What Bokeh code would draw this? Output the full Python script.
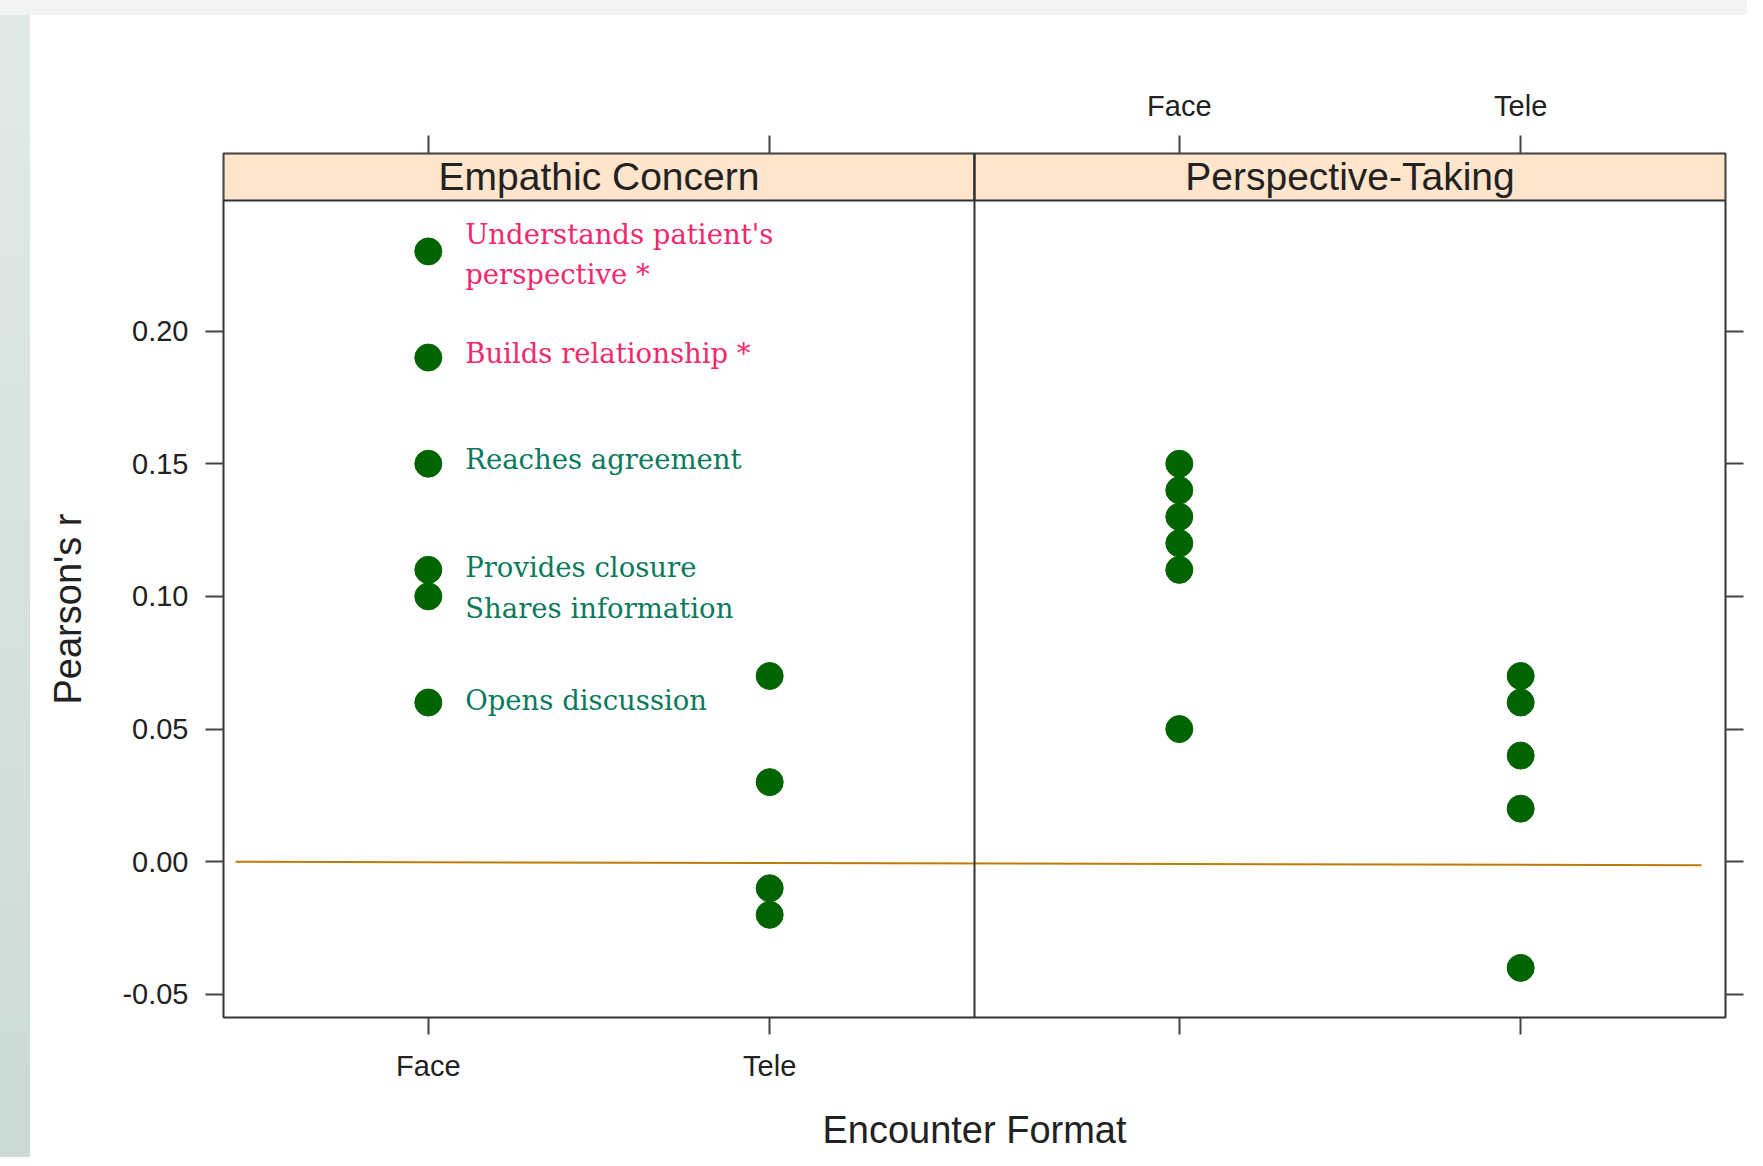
from bokeh.plotting import figure
from bokeh.models import (ColumnDataSource, FixedTicker, LinearAxis, Range1d, Span,
                          Title, NumeralTickFormatter, CustomJSTickFormatter)
from bokeh.layouts import column
from bokeh.core.properties import value
from bokeh.embed import file_html
from bokeh.resources import INLINE

# ---------------- data ----------------
panels = ["Empathic Concern", "Perspective-Taking"]
formats = ["Face", "Tele"]

ec_face = [0.23, 0.19, 0.15, 0.11, 0.10, 0.06]
ec_tele = [0.07, 0.03, -0.01, -0.02]
pt_face = [0.15, 0.14, 0.13, 0.12, 0.11, 0.05]
pt_tele = [0.07, 0.06, 0.04, 0.02, -0.04]

y_ticks = [-0.05, 0.00, 0.05, 0.10, 0.15, 0.20]

ann_text = ["Understands patient's", "perspective *", "Builds  relationship *",
            "Reaches agreement", "Provides closure", "Shares information",
            "Opens discussion"]
ann_y = [0.2367, 0.2215, 0.1918, 0.1516, 0.1109, 0.0957, 0.0610]
ann_kind = ["sig", "sig", "sig", "ns", "ns", "ns", "ns"]

ref_x = [0.435, 4.73]
ref_y = [0.0, -0.0013]

# ---------------- layout constants ----------------
X_LO, X_HI = 0.4, 2.6          # lattice-style factor limits per panel
PW = X_HI - X_LO               # panel width in x units
Y_LO, Y_HI = -0.0587, 0.2669
STRIP_LO = 0.2492

SANS = "Liberation Sans"
SERIF = "DejaVu Serif"
INK = "#222222"
BORDER = "#333333"
PT_COLOR = "#006400"
SIG_COLOR = "#f2286e"
NS_COLOR = "#0a7a5d"

series = {
    ("Empathic Concern", "Face"): ec_face,
    ("Empathic Concern", "Tele"): ec_tele,
    ("Perspective-Taking", "Face"): pt_face,
    ("Perspective-Taking", "Tele"): pt_tele,
}

xs, ys = [], []
for (pan, fmt), vals in series.items():
    xpos = panels.index(pan) * PW + formats.index(fmt) + 1
    for v in vals:
        xs.append(xpos)
        ys.append(v)

p = figure(width=1747, height=1157, output_backend="svg", toolbar_location=None,
           x_range=Range1d(X_LO, X_LO + PW * len(panels)),
           y_range=Range1d(Y_LO, Y_HI),
           min_border_left=223, min_border_right=22,
           min_border_top=153, min_border_bottom=140)
p.background_fill_color = "white"
p.border_fill_alpha = 0
p.outline_line_color = BORDER
p.outline_line_width = 2
p.xgrid.visible = False
p.ygrid.visible = False

x_ticks = [i * PW + j + 1 for i in range(len(panels)) for j in range(len(formats))]

def style_axis(ax, tick_out, standoff):
    ax.axis_line_color = None
    ax.major_tick_line_color = "#444444"
    ax.major_tick_line_width = 2
    ax.major_tick_out = tick_out
    ax.major_tick_in = 0
    ax.minor_tick_line_color = None
    ax.major_label_text_font = SANS
    ax.major_label_text_font_size = "29px"
    ax.major_label_text_color = INK
    ax.major_label_standoff = standoff

# bottom axis: labels on first panel only
bx = p.xaxis[0]
bx.ticker = FixedTicker(ticks=x_ticks)
bx.major_label_overrides = {t: (formats[k % 2] if k < 2 else "") for k, t in enumerate(x_ticks)}
style_axis(bx, 17, 15)
bx.axis_label = "Encounter Format"
bx.axis_label_text_font = SANS
bx.axis_label_text_font_size = "38px"
bx.axis_label_text_font_style = "normal"
bx.axis_label_text_color = INK
bx.axis_label_standoff = 24

# top axis: labels on second panel only
tx = LinearAxis(ticker=FixedTicker(ticks=x_ticks))
tx.major_label_overrides = {t: (formats[k % 2] if k >= 2 else "") for k, t in enumerate(x_ticks)}
style_axis(tx, 18, 14)
p.add_layout(tx, "above")

# left axis
ly = p.yaxis[0]
ly.ticker = FixedTicker(ticks=y_ticks)
ly.formatter = NumeralTickFormatter(format="0.00")
style_axis(ly, 18, 17)

# right axis: ticks only
ry = LinearAxis(ticker=FixedTicker(ticks=y_ticks),
                formatter=CustomJSTickFormatter(code="return ''"))
style_axis(ry, 18, 0)
p.add_layout(ry, "right")

# y axis title (centred on the panel body, below the strip)
p.add_layout(Title(text="Pearson's r", align="left", offset=313, standoff=62,
                   text_font=SANS, text_font_size="38px", text_font_style="normal",
                   text_color=INK), "left")

# strips
strip_src = ColumnDataSource(dict(
    left=[X_LO + i * PW for i in range(len(panels))],
    right=[X_LO + (i + 1) * PW for i in range(len(panels))],
    bottom=[STRIP_LO] * len(panels),
    top=[Y_HI] * len(panels),
    cx=[X_LO + (i + 0.5) * PW for i in range(len(panels))],
    cy=[(STRIP_LO + Y_HI) / 2] * len(panels),
    name=panels,
))
p.quad(left="left", right="right", bottom="bottom", top="top", source=strip_src,
       fill_color="#ffe5cc", line_color=BORDER, line_width=2)
p.text(x="cx", y="cy", text="name", source=strip_src, text_font=value(SANS),
       text_font_size="39px", text_color=INK, text_align="center",
       text_baseline="middle")

# panel divider
p.add_layout(Span(location=X_LO + PW, dimension="height", line_color=BORDER, line_width=2))

# reference line
p.line(ref_x, ref_y, line_color="#bb7d0a", line_width=2)

# points
p.scatter(xs, ys, size=27, marker="circle", fill_color=PT_COLOR, line_color=PT_COLOR)

# annotations
ann_src = ColumnDataSource(dict(
    x=[1.108] * len(ann_text), y=ann_y, text=ann_text,
    color=[SIG_COLOR if k == "sig" else NS_COLOR for k in ann_kind],
))
p.text(x="x", y="y", text="text", source=ann_src, text_color="color",
       text_font=value(SERIF), text_font_size="27.5px", text_align="left",
       text_baseline="middle")

# page background bands (top strip and left gradient) behind the transparent border
bg = ("linear-gradient(#f1f4f3, #f1f4f3) 0 0 / 100% 15px no-repeat, "
      "linear-gradient(#e1eae6, #cadbd4) 0 0 / 30px 100% no-repeat, #ffffff")
layout = column(p, styles={"background": bg})

open("out.html", "w").write(file_html(layout, INLINE))
